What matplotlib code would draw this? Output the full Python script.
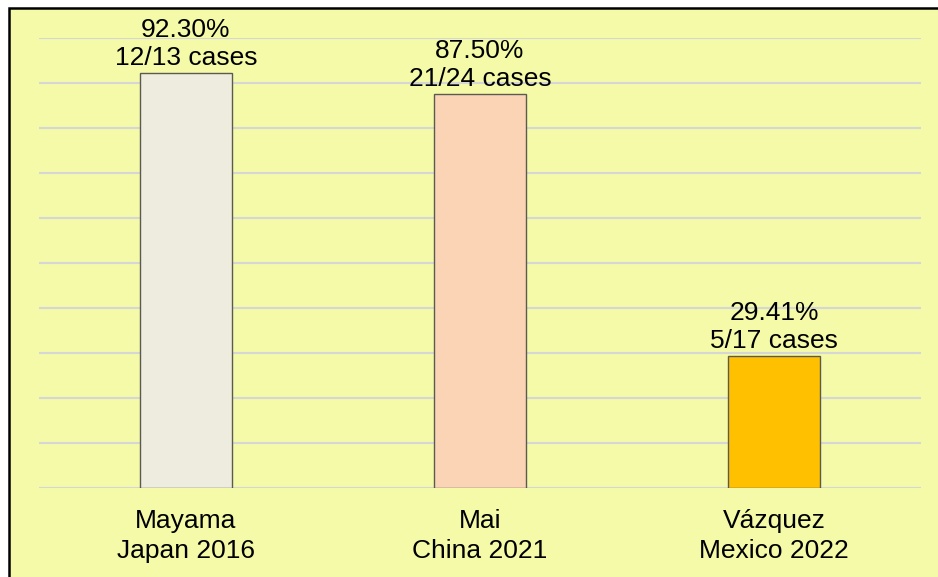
import matplotlib.pyplot as plt
from matplotlib.patches import Rectangle

# 연구별 데이터
studies = ["Mayama\nJapan 2016", "Mai\nChina 2021", "Vázquez\nMexico 2022"]
rates = [92.30, 87.50, 29.41]
cases = ["12/13 cases", "21/24 cases", "5/17 cases"]
colors = ["#EEEBDF", "#FBD4B5", "#FFC000"]

plt.rcParams['font.family'] = ['Liberation Sans', 'DejaVu Sans']

fig = plt.figure(figsize=(9.38, 5.77), dpi=100, facecolor="white")

# 노란 배경 (왼쪽/위쪽 테두리만 보임)
bg = Rectangle((9 / 938, -0.02), 1.0, (577 - 8) / 577 + 0.02,
               transform=fig.transFigure, facecolor="#F4FAA8",
               edgecolor="black", linewidth=1.8, zorder=-10)
fig.patches.append(bg)

ax = fig.add_axes([39 / 938, (577 - 488) / 577, 882 / 938, 450 / 577])
ax.set_facecolor("none")
ax.set_zorder(1)

x = [0.5, 1.5, 2.5]
ax.bar(x, rates, width=0.313, color=colors, edgecolor="#5A5A50",
       linewidth=1.0, zorder=3)

for xi, r, c in zip(x, rates, cases):
    ax.annotate(f"{r:.2f}%\n{c}", (xi, r), xytext=(0, 2),
                textcoords="offset points", ha="center", va="bottom",
                fontsize=19, linespacing=1.22, zorder=4)

ax.set_xlim(0, 3)
ax.set_ylim(0, 100)
ax.set_yticks(range(0, 101, 10))
ax.yaxis.grid(True, color="#D6D6D6", linewidth=1.5, zorder=1)
ax.set_axisbelow(True)
ax.tick_params(axis="y", left=False, labelleft=False)
ax.set_xticks(x)
ax.set_xticklabels(studies, fontsize=19, linespacing=1.3)
ax.tick_params(axis="x", length=0, pad=15)
for s in ax.spines.values():
    s.set_visible(False)

plt.savefig("out.png", dpi=100, facecolor=fig.get_facecolor())
